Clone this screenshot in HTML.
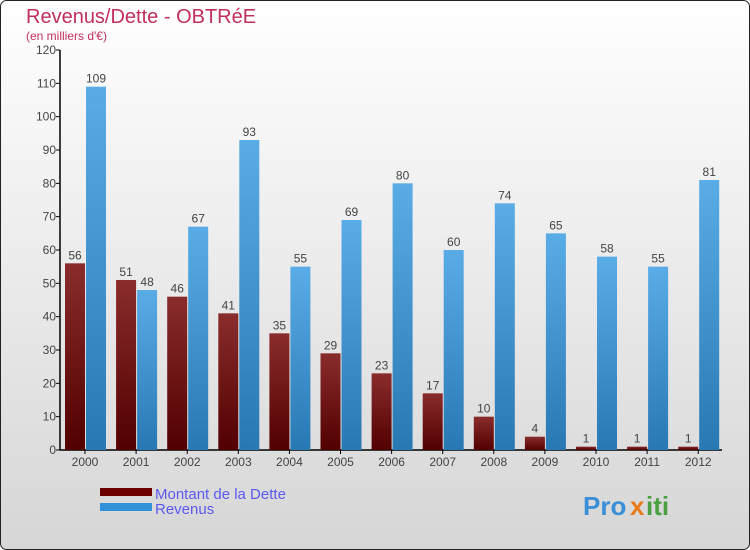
<!DOCTYPE html>
<html><head><meta charset="utf-8"><style>
body{margin:0}
#wrap{width:750px;height:550px;position:relative;overflow:hidden;font-family:"Liberation Sans",sans-serif}
</style></head><body>
<div id="wrap">
<svg id="chart" width="750" height="550" xmlns="http://www.w3.org/2000/svg">
<defs>
<linearGradient id="bg" x1="0" y1="0" x2="0" y2="1"><stop offset="0" stop-color="#ffffff"/><stop offset="1" stop-color="#d6d6d6"/></linearGradient>
<linearGradient id="gd" x1="0" y1="0" x2="0" y2="1"><stop offset="0" stop-color="#8a2c2c"/><stop offset="1" stop-color="#520000"/></linearGradient>
<linearGradient id="gr" x1="0" y1="0" x2="0" y2="1"><stop offset="0" stop-color="#5aace6"/><stop offset="1" stop-color="#2878b4"/></linearGradient>
</defs>
<rect x="0.5" y="0.5" width="749" height="549" rx="6" fill="url(#bg)" stroke="#222"/>
<text x="26" y="23" font-size="20" fill="#c0305a">Revenus/Dette - OBTRéE</text>
<text x="26" y="40" font-size="12" fill="#c0305a">(en milliers d'€)</text>
<g id="axes"></g>
<g id="bars"></g>
<rect x="100" y="488" width="52" height="8" fill="#6a0000"/>
<text x="155" y="499" font-size="15" fill="#5a5af0">Montant de la Dette</text>
<rect x="100" y="503" width="52" height="8" fill="#3090d8"/>
<text x="155" y="514" font-size="15" fill="#5a5af0">Revenus</text>
<g font-size="26" font-weight="bold">
<text x="583" y="515" fill="#3a8fd8">Pro</text><text x="630" y="515" fill="#e87a1a">x</text><text x="646" y="515" fill="#4aa040">iti</text>
</g>
</svg>
</div>
<script>
const years=["2000","2001","2002","2003","2004","2005","2006","2007","2008","2009","2010","2011","2012"];
const dette=[56,51,46,41,35,29,23,17,10,4,1,1,1];
const revenus=[109,48,67,93,55,69,80,60,74,65,58,55,81];
const yTicks=[0,10,20,30,40,50,60,70,80,90,100,110,120];
const NS="http://www.w3.org/2000/svg";
const y0=450,yTop=50,yMax=120,x0=85,step=51.1,bw=20;
const y=v=>y0-(v/yMax)*(y0-yTop);
const xc=i=>x0+i*step;
function mk(tag,attrs,parent){const e=document.createElementNS(NS,tag);for(const k in attrs)e.setAttribute(k,attrs[k]);parent.appendChild(e);return e;}
const axes=document.getElementById('axes'),bars=document.getElementById('bars');
let l=mk('line',{x1:60,y1:yTop,x2:60,y2:y0,stroke:'#000','stroke-width':1.5},axes);


l=mk('line',{x1:60,y1:y0,x2:722,y2:y0,stroke:'#000','stroke-width':1.5},axes);


yTicks.forEach(t=>{
 const tk=mk('line',{x1:56,x2:60,y1:y(t),y2:y(t),stroke:'#000'},axes);
 
 
 const tx=mk('text',{x:56,y:y(t)+4,'font-size':12,fill:'#444','text-anchor':'end'},axes);
 tx.textContent=t;
 
 
});
years.forEach((yr,i)=>{
 const c=xc(i);
 const tk=mk('line',{x1:c,x2:c,y1:y0,y2:y0+4,stroke:'#000'},axes);
 
 
 const tx=mk('text',{x:c,y:y0+16,'font-size':12,fill:'#444','text-anchor':'middle'},axes);
 tx.textContent=yr;
 
 
 const b1=mk('rect',{x:c-bw,y:y(dette[i]),width:bw,height:y0-y(dette[i]),fill:'url(#gd)'},bars);
 
 
 const b2=mk('rect',{x:c+1,y:y(revenus[i]),width:bw,height:y0-y(revenus[i]),fill:'url(#gr)'},bars);
 
 
 const v1=mk('text',{x:c-bw/2,y:y(dette[i])-4,'font-size':12,fill:'#444','text-anchor':'middle'},bars);
 v1.textContent=dette[i];
 
 
 const v2=mk('text',{x:c+1+bw/2,y:y(revenus[i])-4,'font-size':12,fill:'#444','text-anchor':'middle'},bars);
 v2.textContent=revenus[i];
 
 
});
</script>
</body></html>
